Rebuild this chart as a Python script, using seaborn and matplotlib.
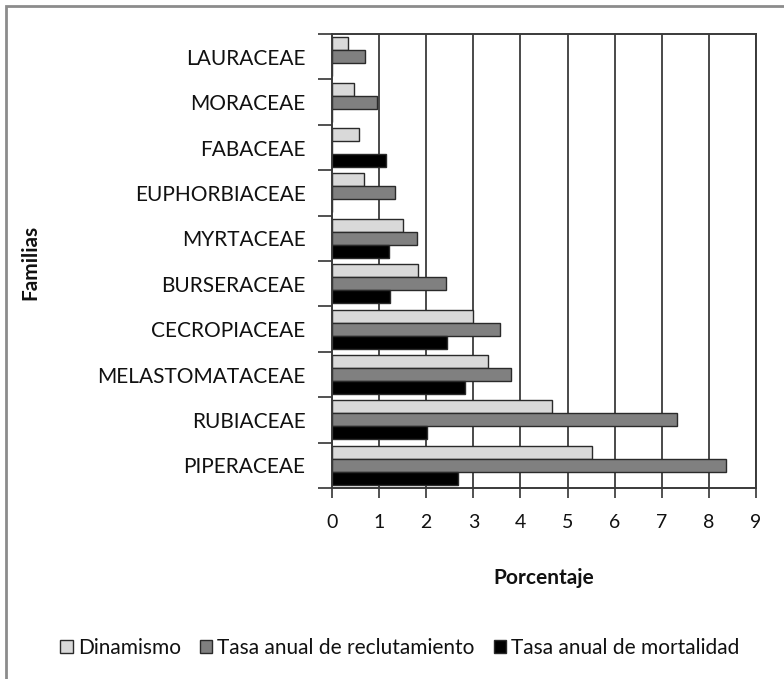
import numpy as np
import pandas as pd
import matplotlib
matplotlib.use("Agg")
import matplotlib.pyplot as plt
from matplotlib.patches import Patch, Rectangle
import seaborn as sns

familias = ["LAURACEAE", "MORACEAE", "FABACEAE", "EUPHORBIACEAE", "MYRTACEAE",
            "BURSERACEAE", "CECROPIACEAE", "MELASTOMATACEAE", "RUBIACEAE", "PIPERACEAE"]
dinamismo = [0.34, 0.47, 0.58, 0.68, 1.51, 1.83, 3.00, 3.32, 4.66, 5.52]
reclutamiento = [0.71, 0.95, 0.0, 1.33, 1.80, 2.43, 3.56, 3.79, 7.32, 8.37]
mortalidad = [0.0, 0.0, 1.15, 0.0, 1.21, 1.24, 2.44, 2.83, 2.02, 2.68]
series = ["Dinamismo", "Tasa anual de reclutamiento", "Tasa anual de mortalidad"]
colores = ["#d9d9d9", "#808080", "#000000"]
xticks = list(range(0, 10))

df = pd.DataFrame({
    "Familia": familias * 3,
    "Serie": np.repeat(series, len(familias)),
    "Valor": dinamismo + reclutamiento + mortalidad,
})

sns.set_theme(style="white")
plt.rcParams["font.family"] = ["Lato", "DejaVu Sans"]

fig = plt.figure(figsize=(7.84, 6.79), dpi=100)
ax = fig.add_axes([332 / 784, 1 - 488 / 679, (756 - 332) / 784, (488 - 34) / 679])

sns.barplot(data=df, y="Familia", x="Valor", hue="Serie", order=familias,
            hue_order=series, palette=colores, orient="h", width=0.86,
            edgecolor="#2a2a2a", linewidth=1.0, ax=ax, legend=False)

ax.set_xlim(0, 9)
ax.set_ylim(len(familias) - 0.5, -0.5)
ax.set_xticks(xticks)
ax.set_xticklabels([str(t) for t in xticks], fontsize=14)
ax.set_yticks(np.arange(len(familias) + 1) - 0.5)
ax.set_yticklabels([])
ax.set_yticks(np.arange(len(familias)), minor=True)
ax.set_yticklabels(familias, minor=True, fontsize=15, color="#111111")
ax.tick_params(axis="y", which="minor", length=0, pad=19)
ax.tick_params(axis="y", which="major", length=10, width=1.2, color="#333333", direction="out", left=True)
ax.tick_params(axis="x", length=7, width=1.2, color="#333333", direction="out", bottom=True, pad=12,
               labelcolor="#111111")

for x in xticks[1:]:
    ax.axvline(x, color="#4a4a4a", lw=1.4, zorder=0)

for side in ["left", "bottom", "top", "right"]:
    ax.spines[side].set_visible(True)
    ax.spines[side].set_color("#3a3a3a")
    ax.spines[side].set_linewidth(1.4)

ax.set_xlabel("Porcentaje", fontsize=15, fontweight="bold", labelpad=26, color="#111111")
ax.set_ylabel("")
fig.text(30 / 784, 1 - 262 / 679, "Familias", rotation=90, fontsize=15, fontweight="bold",
         ha="center", va="center", color="#111111")

handles = [Patch(facecolor=c, edgecolor="#2a2a2a", linewidth=1.0) for c in colores]
fig.legend(handles, series, loc="center", bbox_to_anchor=(400 / 784, 1 - 648 / 679), ncol=3,
           frameon=False, fontsize=15, handlelength=0.6, handleheight=0.6,
           handletextpad=0.25, columnspacing=0.9, borderaxespad=0, labelcolor="#111111")

fig.patches.append(Rectangle((6 / 784, -0.1), 1.2, 1.1 - 6 / 679, transform=fig.transFigure,
                             fill=False, edgecolor="#8c8c8c", linewidth=2.0))

fig.savefig("out.png", dpi=100)
